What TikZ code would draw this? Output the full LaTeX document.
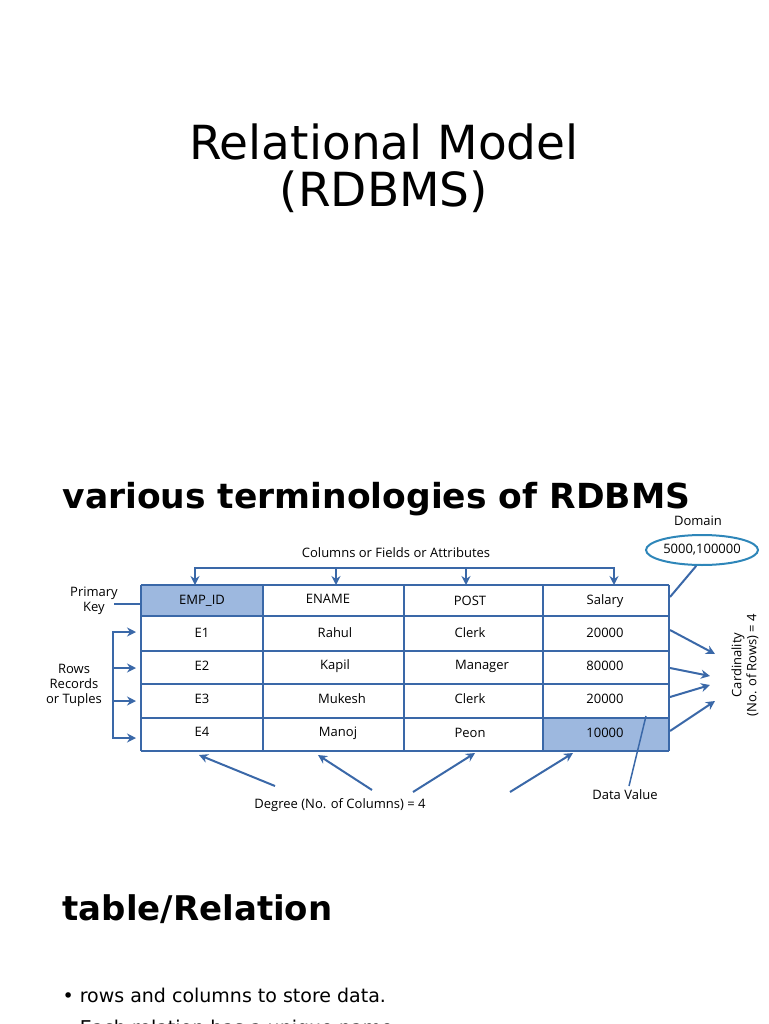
\documentclass[tikz,border=0pt]{standalone}
\usepackage{fontspec}
\setmainfont{DejaVu Sans}
\newfontfamily\tabfont{Open Sans}
\usetikzlibrary{arrows.meta,shapes.geometric}
\begin{document}
\begin{tikzpicture}[x=1pt,y=-1pt,
  bl/.style={draw=lineblue,line width=2pt},
  arr/.style={draw=lineblue,line width=2pt,-{Stealth[length=9pt,width=9pt]}},
  cell/.style={font=\tabfont\fontsize{13}{15}\selectfont,inner sep=0pt},
  lab/.style={font=\tabfont\fontsize{13}{15}\selectfont,align=center,inner sep=0pt}]
\definecolor{lineblue}{HTML}{3A68A8}
\definecolor{hdrfill}{HTML}{9DB8DF}
\useasboundingbox (0,0) rectangle (768,1024);
\node[font=\fontsize{47}{55}\selectfont] (t1) at (384,142) {Relational Model};
\node[font=\fontsize{47}{55}\selectfont] (t2) at (384,192) {(RDBMS)};
\node[font=\bfseries\fontsize{34.5}{40}\selectfont,anchor=base west] (h1) at (59,508) {various terminologies of RDBMS};
\node[font=\bfseries\fontsize{34}{40}\selectfont,anchor=base west] (h2) at (59,920) {table/Relation};
\node[font=\fontsize{19}{23}\selectfont,anchor=base west] (b1) at (59,1002) {\textbullet{} rows and columns to store data.};
\node[font=\fontsize{19}{23}\selectfont,anchor=base west] (b2) at (59,1034) {\textbullet{} Each relation has a unique name};
% table
\fill[hdrfill] (141,585) rectangle (263,616);
\fill[hdrfill] (543,718) rectangle (669,751);
\foreach \y in {585,616,651,684,718,751} \draw[bl] (141,\y) -- (669,\y);
\foreach \x in {141,263,404,543,669} \draw[bl] (\x,585) -- (\x,751);
\foreach \t/\x/\y in {EMP\_ID/202/601, ENAME/328/599, POST/470/601, Salary/605/601,
  E1/202/633, Rahul/335/633, Clerk/470/633, 20000/605/633,
  E2/202/666, Kapil/335/666, Manager/482/666, 80000/605/666,
  E3/202/699, Mukesh/342/699, Clerk/470/699, 20000/605/699,
  E4/202/732, Manoj/338/733, Peon/470/733, 10000/605/733}
  \node[cell] at (\x,\y) {\t};
% columns label
\node[lab] (cols) at (396,553) {Columns or Fields or Attributes};
\draw[bl] (195,568) -- (614,568);
\foreach \x in {195,336,466,614} \draw[arr] (\x,567) -- (\x,585);
% primary key
\node[lab] (pk) at (94,601) {Primary\\Key};
\coordinate (pke) at (141,604);
\draw[bl] (114,604) -- (pke);
% rows
\node[lab] (rows) at (74,685) {Rows\\Records\\or Tuples};
\draw[bl] (113,632) -- (113,738);
\foreach \y in {632,668,701,738} \draw[arr] (112,\y) -- (136,\y);
% degree
\node[lab] (deg) at (340,805) {Degree (No. of Columns) = 4};
\draw[arr] (275,786) -- (199,755);
\draw[arr] (372,790) -- (318,755);
\draw[arr] (413,792) -- (475,753);
\draw[arr] (510,792) -- (573,753);
% data value
\node[lab] (dv) at (625,795) {Data Value};
\draw[bl,line width=1.5pt] (629,786) -- (646,716);
% domain
\node[lab] (dom) at (698,521) {Domain};
\node[draw=lineblue!80!cyan,line width=2pt,ellipse,minimum width=112pt,minimum height=30pt,inner sep=0pt,font=\tabfont\fontsize{13}{15}\selectfont] (ell) at (702,550) {5000,100000};
\draw[bl] (ell.250) -- (670,597);
% cardinality
\node[lab,rotate=90] (card) at (745,665) {Cardinality\\(No. of Rows) = 4};
\draw[arr] (670,630) -- (715,654);
\draw[arr] (670,668) -- (710,676);
\draw[arr] (670,697) -- (710,685);
\draw[arr] (670,731) -- (715,701);
\end{tikzpicture}
\end{document}
